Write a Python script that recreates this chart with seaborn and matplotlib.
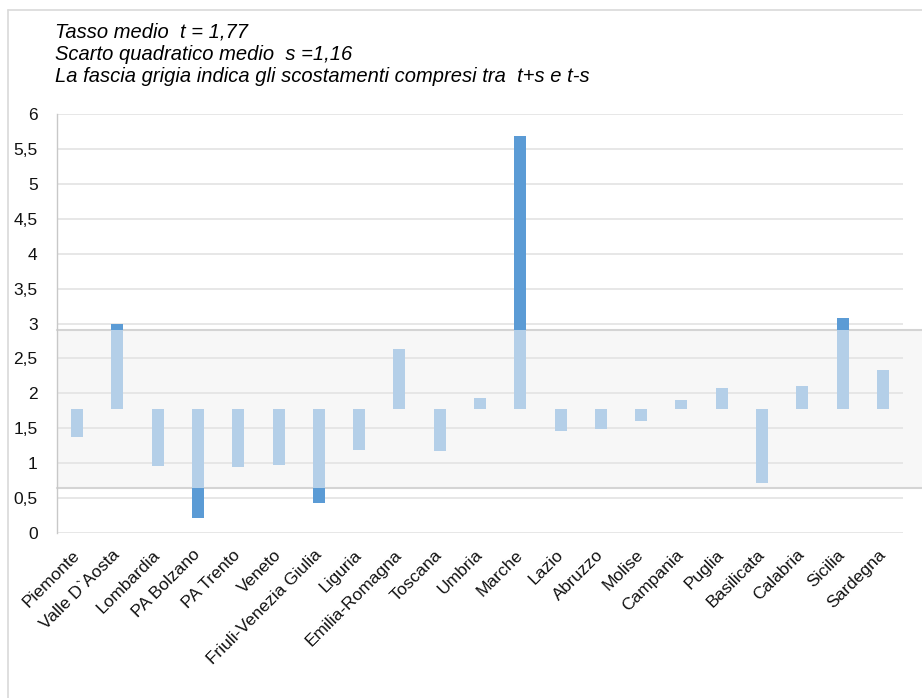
import numpy as np
import pandas as pd
import seaborn as sns
import matplotlib.pyplot as plt
from matplotlib.lines import Line2D
from matplotlib.ticker import FuncFormatter, MultipleLocator

# dati
regioni = ["Piemonte", "Valle D`Aosta", "Lombardia", "PA Bolzano", "PA Trento",
           "Veneto", "Friuli-Venezia Giulia", "Liguria", "Emilia-Romagna",
           "Toscana", "Umbria", "Marche", "Lazio", "Abruzzo", "Molise",
           "Campania", "Puglia", "Basilicata", "Calabria", "Sicilia", "Sardegna"]
tassi = [1.37, 2.99, 0.96, 0.22, 0.95, 0.98, 0.43, 1.19, 2.64, 1.17,
         1.94, 5.68, 1.46, 1.49, 1.61, 1.90, 2.07, 0.72, 2.10, 3.08, 2.33]
t_medio = 1.77
fascia = (0.64, 2.90)   # t-s, t+s come disegnati
intestazione = ["Tasso medio  t = 1,77",
                "Scarto quadratico medio  s =1,16",
                "La fascia grigia indica gli scostamenti compresi tra  t+s e t-s"]

df = pd.DataFrame({"regione": regioni, "tasso": tassi})
df["scarto"] = df["tasso"] - t_medio
df["scarto_in_fascia"] = df["tasso"].clip(*fascia) - t_medio

sns.set_style("white")
plt.rcParams["font.family"] = ["Liberation Sans", "DejaVu Sans"]

fig = plt.figure(figsize=(9.22, 6.98), dpi=100)
ax = fig.add_axes([57 / 922, 165 / 698, 846 / 922, 419 / 698])

chiaro = "#b4cfe8"
scuro = "#5b9bd5"

sns.barplot(data=df, x="regione", y="scarto", color=scuro, width=0.3,
            bottom=t_medio, errorbar=None, saturation=1, linewidth=0,
            ax=ax, zorder=2)
sns.barplot(data=df, x="regione", y="scarto_in_fascia", color=chiaro, width=0.3,
            bottom=t_medio, errorbar=None, saturation=1, linewidth=0,
            ax=ax, zorder=3)

# fascia grigia
ax.axhspan(fascia[0], fascia[1], xmin=0, xmax=865 / 846, facecolor="#f7f7f7",
           edgecolor="none", zorder=0.3, clip_on=False)
for yv in fascia:
    ax.axhline(yv, xmin=0, xmax=865 / 846, color="#d4d4d4", lw=1.5,
               zorder=1, clip_on=False)

ax.set_ylim(0, 6)
ax.set_xlim(-0.5, len(regioni) - 0.5)
ax.yaxis.set_major_locator(MultipleLocator(0.5))
ax.yaxis.set_major_formatter(FuncFormatter(lambda v, p: f"{v:g}".replace(".", ",")))
ax.set_axisbelow(True)
ax.yaxis.grid(True, color="#e3e3e3", lw=1.2)
ax.xaxis.grid(False)
for s in ["top", "right", "bottom"]:
    ax.spines[s].set_visible(False)
ax.spines["left"].set_color("#c8c8c8")
ax.spines["left"].set_linewidth(1)

ax.set_xlabel("")
ax.set_ylabel("")
ax.tick_params(axis="y", length=0, pad=14, labelsize=12.5, labelcolor="#111111")
ax.tick_params(axis="x", length=0, pad=14, labelsize=12.5, labelcolor="#111111")
plt.setp(ax.get_xticklabels(), rotation=45, ha="right", va="center",
         rotation_mode="anchor")

# cornice del grafico
fig.add_artist(Line2D([7.5 / 922, 7.5 / 922], [0, 688 / 698], color="#d9d9d9", lw=1.2))
fig.add_artist(Line2D([7.5 / 922, 1], [688 / 698, 688 / 698], color="#d9d9d9", lw=1.2))

for riga, yp in zip(intestazione, [32, 54, 77]):
    fig.text(55 / 922, 1 - yp / 698, riga, fontsize=14.5, style="italic",
             va="center", ha="left", color="#000000")

fig.savefig("out.png", dpi=100)
